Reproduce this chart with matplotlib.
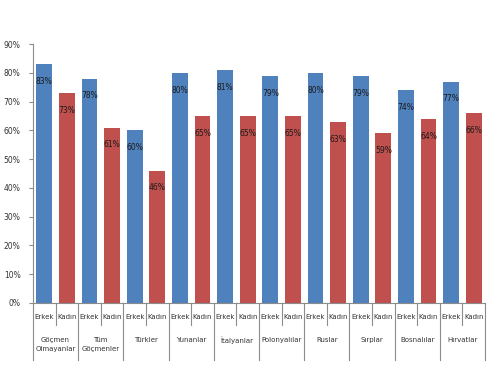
import matplotlib.pyplot as plt
import matplotlib.transforms as mtransforms
import numpy as np

# Gruplar ve değerler (%)
gruplar = ['Göçmen\nOlmayanlar', 'Tüm\nGöçmenler', 'Türkler', 'Yunanlar', 'İtalyanlar',
           'Polonyalılar', 'Ruslar', 'Sırplar', 'Bosnalılar', 'Hırvatlar']
erkek = [83, 78, 60, 80, 81, 79, 80, 79, 74, 77]
kadin = [73, 61, 46, 65, 65, 65, 63, 59, 64, 66]
alt_etiketler = ['Erkek', 'Kadın']
y_ticks = [0, 10, 20, 30, 40, 50, 60, 70, 80, 90]

MAVI = '#4F81BD'
KIRMIZI = '#C0504D'
GRI = '#8C8C8C'

fig = plt.figure(figsize=(5, 3.84), dpi=100)
ax = fig.add_axes([0.066, 0.211, 0.904, 0.674])

n = len(gruplar)
x_erkek = np.arange(n) * 2
x_kadin = x_erkek + 1

ax.bar(x_erkek, erkek, width=0.7, color=MAVI, zorder=2)
ax.bar(x_kadin, kadin, width=0.7, color=KIRMIZI, zorder=2)

# Çubuk içi etiketler
for x, v in zip(x_erkek, erkek):
    ax.text(x, v - 6, f'{v}%', ha='center', va='center', fontsize=5.5, color='#1a1a1a', zorder=3)
for x, v in zip(x_kadin, kadin):
    ax.text(x, v - 6, f'{v}%', ha='center', va='center', fontsize=5.5, color='#1a1a1a', zorder=3)

ax.set_xlim(-0.5, 2 * n - 0.5)
ax.set_ylim(0, 90)
ax.set_yticks(y_ticks)
ax.set_yticklabels([f'{t}%' for t in y_ticks], fontsize=5.5, color='#333333')
ax.tick_params(axis='y', length=3, width=0.8, color=GRI, pad=6)
ax.set_xticks([])

for s in ['top', 'right']:
    ax.spines[s].set_visible(False)
ax.spines['left'].set_color(GRI)
ax.spines['bottom'].set_color(GRI)
ax.spines['left'].set_linewidth(0.8)
ax.spines['bottom'].set_linewidth(0.8)

# Çok seviyeli kategori ekseni
trans = mtransforms.blended_transform_factory(ax.transData, ax.transAxes)
for i in range(2 * n + 1):
    xs = i - 0.5
    alt = -0.22 if i % 2 == 0 else -0.085
    ax.plot([xs, xs], [0, alt], color=GRI, lw=0.8, transform=trans, clip_on=False)

for i in range(2 * n):
    ax.text(i, -0.055, alt_etiketler[i % 2], ha='center', va='center',
            fontsize=5, color='#333333', transform=trans)

for g, ad in enumerate(gruplar):
    ax.text(2 * g + 0.5, -0.13, ad, ha='center', va='top', fontsize=5,
            color='#333333', transform=trans, linespacing=1.6)

plt.savefig('out.png', dpi=100)
